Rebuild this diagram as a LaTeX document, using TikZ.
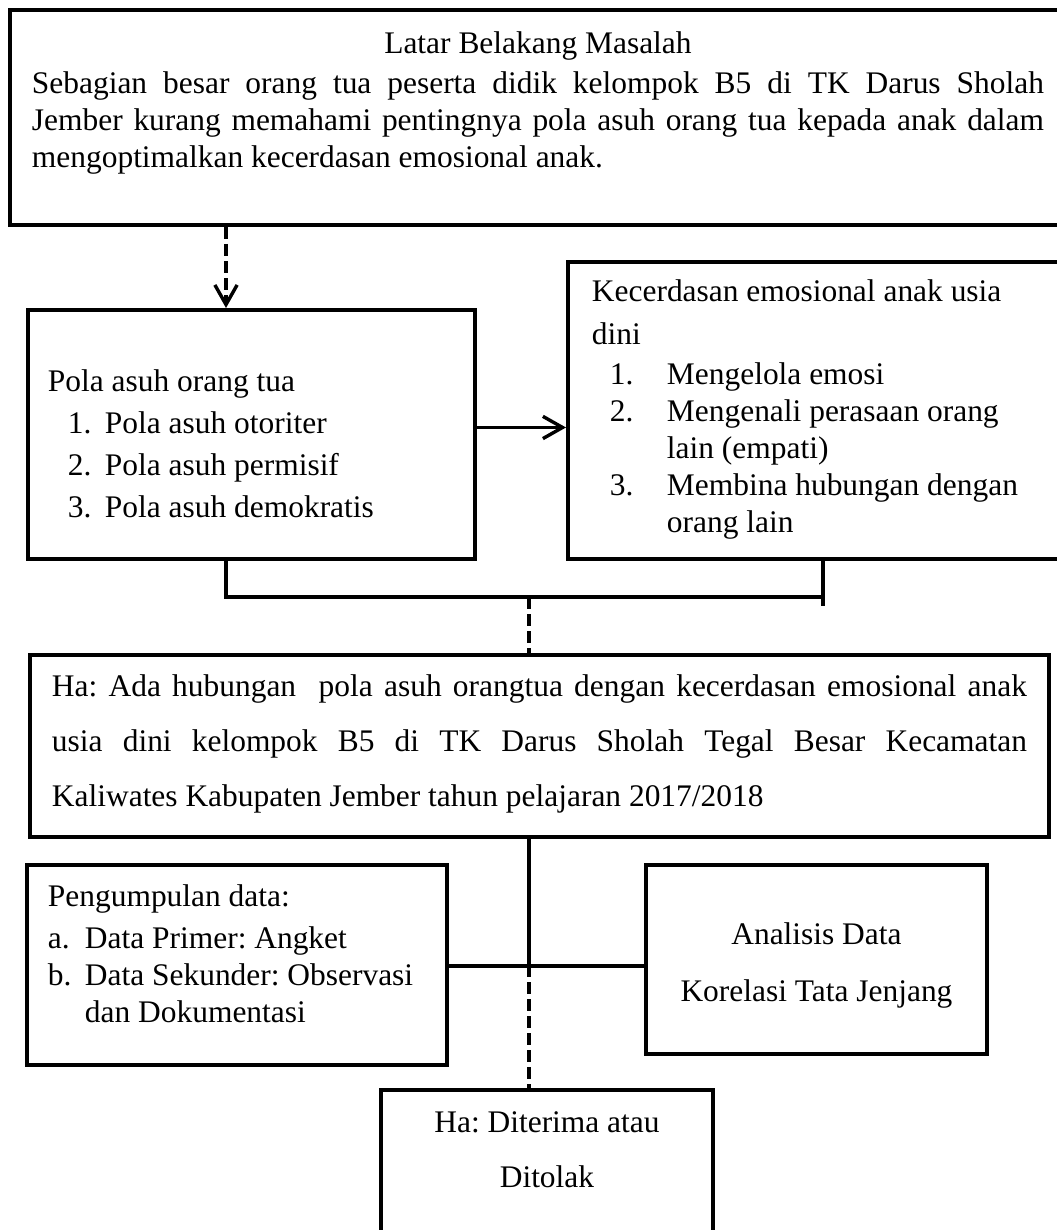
\documentclass[tikz,border=0pt]{standalone}
\usepackage{fontspec}
\setmainfont{Liberation Serif}
\usetikzlibrary{arrows.meta}
\frenchspacing
\newlength{\px}
\newlength{\BoxLine}
\setlength{\px}{0.3817pt}
\setlength{\BoxLine}{1.5pt}
% box content: height, width, top gap, text
\newcommand{\boxtext}[4]{\parbox[t][#1\px][t]{#2\px}{\vspace*{#3\px}#4}}
\newcommand{\itemline}[3]{\hspace*{#1\px}\makebox[#2\px][l]{#3}}
\tikzset{
  flow box/.style={draw, line width=\BoxLine, anchor=north west, inner ysep=0pt,
    font=\fontsize{12}{14.1}\selectfont},
  flow link/.style={line width=1.3pt},
  flow dash/.style={flow link, dash pattern=on 4.5pt off 2pt},
}

\begin{document}
\begin{tikzpicture}[
  x=\px, y=-\px,
  >={Straight Barb[length=7.5pt,width=8.5pt]}
]
  \useasboundingbox (0,0) rectangle (1057,1230);
  \clip (0,0) rectangle (1057,1230);

  \node[flow box, inner xsep=22\px] (latar) at (8,8) {\boxtext{215}{1012}{22}{%
    {\centering Latar Belakang Masalah\par}\vspace{3\px}
    Sebagian besar orang tua peserta didik kelompok B5 di TK Darus Sholah\linebreak
    Jember kurang memahami pentingnya pola asuh orang tua kepada anak dalam\linebreak
    mengoptimalkan kecerdasan emosional anak.}};

  \node[flow box, inner xsep=20\px, font=\fontsize{12}{16}\selectfont] (pola) at (26,308) {\boxtext{249}{407}{60}{%
    Pola asuh orang tua\\
    \itemline{20}{37}{1.}Pola asuh otoriter\\
    \itemline{20}{37}{2.}Pola asuh permisif\\
    \itemline{20}{37}{3.}Pola asuh demokratis}};

  \node[flow box, inner xsep=24\px] (kecerdasan) at (566,260) {\boxtext{297}{452}{18}{%
    Kecerdasan emosional anak usia\\[6\px]
    dini\\[3\px]
    \itemline{18}{57}{1.}Mengelola emosi\\
    \itemline{18}{57}{2.}Mengenali perasaan orang\\
    \hspace*{75\px}lain (empati)\\
    \itemline{18}{57}{3.}Membina hubungan dengan\\
    \hspace*{75\px}orang lain}};

  \node[flow box, inner xsep=22\px, font=\fontsize{12}{21}\selectfont] (hipotesis) at (28,653) {\boxtext{182}{975}{20}{%
    Ha: Ada hubungan \ pola asuh orangtua dengan kecerdasan emosional anak\linebreak
    usia dini kelompok B5 di TK Darus Sholah Tegal Besar Kecamatan\linebreak
    Kaliwates Kabupaten Jember tahun pelajaran 2017/2018}};

  \node[flow box, inner xsep=21\px] (pengumpulan) at (25,863) {\boxtext{200}{378}{20}{%
    Pengumpulan data:\\[5\px]
    \itemline{0}{37}{a.}Data Primer: Angket\\
    \itemline{0}{37}{b.}Data Sekunder: Observasi\\
    \hspace*{37\px}dan Dokumentasi}};

  \node[flow box, inner xsep=0pt, font=\fontsize{12}{21.8}\selectfont] (analisis) at (644,863) {\boxtext{189}{341}{58}{%
    \centering Analisis Data\\
    Korelasi Tata Jenjang}};

  \node[flow box, inner xsep=0pt, font=\fontsize{12}{21}\selectfont] (hasil) at (379,1088) {\boxtext{170}{332}{22}{%
    \centering Ha: Diterima atau\\
    Ditolak}};

  % spine of the lower part
  \coordinate (spine) at (529,0);
  \coordinate (join) at (529,597);

  \draw[flow dash, ->] ([xshift=200\px]pola.north west |- latar.south) -- ([xshift=200\px]pola.north west);
  \draw[flow link, ->] ([yshift=7\px]pola.east) -- ([yshift=7\px]pola.east -| kecerdasan.west);
  \draw[flow link] ([xshift=200\px]pola.south west) |- (join) -| ([xshift=257\px]kecerdasan.south west);
  \draw[flow link] ([xshift=257\px]kecerdasan.south west) -- ++(0,45);
  \draw[flow dash] (join) -- (hipotesis.north -| spine);
  \draw[flow link] (hipotesis.south -| spine) -- (pengumpulan.east -| spine);
  \draw[flow link] ([yshift=-1\px]pengumpulan.east) -- ([yshift=-1\px]pengumpulan.east -| analisis.west);
  \draw[flow dash] (pengumpulan.east -| spine) -- (hasil.north -| spine);
\end{tikzpicture}
\end{document}
